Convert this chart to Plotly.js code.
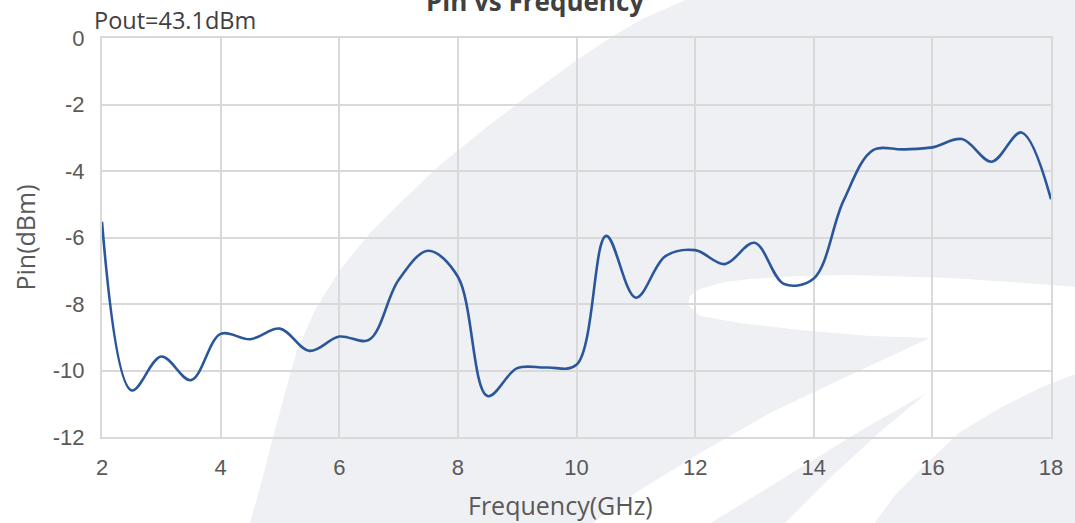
<!DOCTYPE html>
<html>
<head>
<meta charset="utf-8">
<script src="https://cdn.plot.ly/plotly-3.0.1.min.js"></script>
<style>html,body{margin:0;padding:0;background:#fff;}#chart{width:1075px;height:523px;}</style>
</head>
<body>
<div id="chart"></div>
<script>
// Data
const frequencyGHz = [2, 2.5, 3, 3.5, 4, 4.5, 5, 5.5, 6, 6.5, 7, 7.5, 8, 8.5, 9, 9.5, 10, 10.5, 11, 11.5, 12, 12.5, 13, 13.5, 14, 14.5, 15, 15.5, 16, 16.5, 17, 17.5, 18];
const pinDbm = [-5.53, -10.6, -9.58, -10.29, -8.9, -9.06, -8.74, -9.41, -8.98, -9.08, -7.28, -6.4, -7.18, -10.77, -9.93, -9.91, -9.83, -5.95, -7.81, -6.56, -6.38, -6.8, -6.16, -7.4, -7.23, -4.9, -3.37, -3.35, -3.29, -3.04, -3.72, -2.84, -4.85];
const xTickVals = [2, 4, 6, 8, 10, 12, 14, 16, 18];
const yTickVals = [0, -2, -4, -6, -8, -10, -12];

// Watermark decoration (pixel outline -> paper coordinates)
const L = 102, R = 1051, T = 38, B = 437;
function fx(x) { return (x - L) / (R - L); }
function fy(y) { return (B - y) / (B - T); }
function px(x, y) { return fx(x).toFixed(4) + ',' + fy(y).toFixed(4); }
function pathFrom(pts) { return 'M' + pts.map(p => px(p[0], p[1])).join(' L') + ' Z'; }
const grayPts = [[250,523],[262,480],[273,437],[285,393],[297,350],[316,308],[340,270],[370,233],[403,200],[440,165],[483,130],[530,94],[577,60],[610,38],[640,20],[690,-2],[1080,-2],[1080,525],[250,525]];
const whitePts = [[688,305],[690,296],[700,289],[725,282],[750,279],[800,276],[850,275],[950,278],[1010,282],[1080,287],[1080,372],[1040,388],[1000,408],[960,432],[925,465],[895,495],[873,525],[783,525],[830,478],[880,432],[927,393],[870,425],[800,468],[740,505],[707,525],[590,525],[640,490],[700,453],[770,413],[850,375],[930,338],[870,336],[800,330],[740,323],[700,316]];

const trace = {
  x: frequencyGHz, y: pinDbm, type: 'scatter', mode: 'lines',
  line: {color: '#2b579a', width: 2.6, shape: 'spline', smoothing: 1},
  hoverinfo: 'skip'
};

const tickFont = {family: 'Liberation Sans', size: 22, color: '#595959'};

const layout = {
  width: 1075, height: 523,
  margin: {l: 102, r: 24, t: 38, b: 86},
  paper_bgcolor: '#ffffff', plot_bgcolor: 'rgba(0,0,0,0)',
  showlegend: false,
  title: {text: '<b>Pin vs Frequency</b>', font: {family: 'Open Sans', size: 26, color: '#404040'},
          x: 535 / 1075, xref: 'container', xanchor: 'center', y: 0.996, yref: 'container', yanchor: 'middle'},
  xaxis: {
    range: [2, 18], tickvals: xTickVals, ticktext: xTickVals.map(String),
    showgrid: true, gridcolor: '#d9d9d9', gridwidth: 2,
    showline: true, linecolor: '#d9d9d9', linewidth: 2, mirror: true,
    zeroline: false, ticks: '', ticklabelstandoff: 10,
    tickfont: tickFont
  },
  yaxis: {
    range: [-12, 0], tickvals: yTickVals, ticktext: yTickVals.map(String),
    showgrid: true, gridcolor: '#d9d9d9', gridwidth: 2,
    showline: true, linecolor: '#d9d9d9', linewidth: 2, mirror: true,
    zeroline: false, ticks: '', ticklabelstandoff: 11,
    tickfont: tickFont,
    title: {text: 'Pin(dBm)', font: {family: 'Open Sans', size: 25, color: '#595959'}, standoff: 10}
  },
  annotations: [{
    text: 'Pout=43.1dBm', xref: 'paper', yref: 'paper',
    x: fx(92), y: fy(20), xanchor: 'left', yanchor: 'middle', showarrow: false,
    font: {family: 'Open Sans', size: 23.5, color: '#404040'}
  }, {
    text: 'Frequency(GHz)', xref: 'paper', yref: 'paper',
    x: fx(560), y: fy(505), xanchor: 'center', yanchor: 'middle', showarrow: false,
    font: {family: 'Open Sans', size: 25, color: '#595959'}
  }],
  shapes: [
    {type: 'path', xref: 'paper', yref: 'paper', layer: 'below', path: pathFrom(grayPts), fillcolor: '#eff0f4', line: {width: 0}},
    {type: 'path', xref: 'paper', yref: 'paper', layer: 'below', path: pathFrom(whitePts), fillcolor: '#ffffff', line: {width: 0}}
  ]
};

Plotly.newPlot('chart', [trace], layout, {staticPlot: true, displayModeBar: false});
</script>
</body>
</html>
